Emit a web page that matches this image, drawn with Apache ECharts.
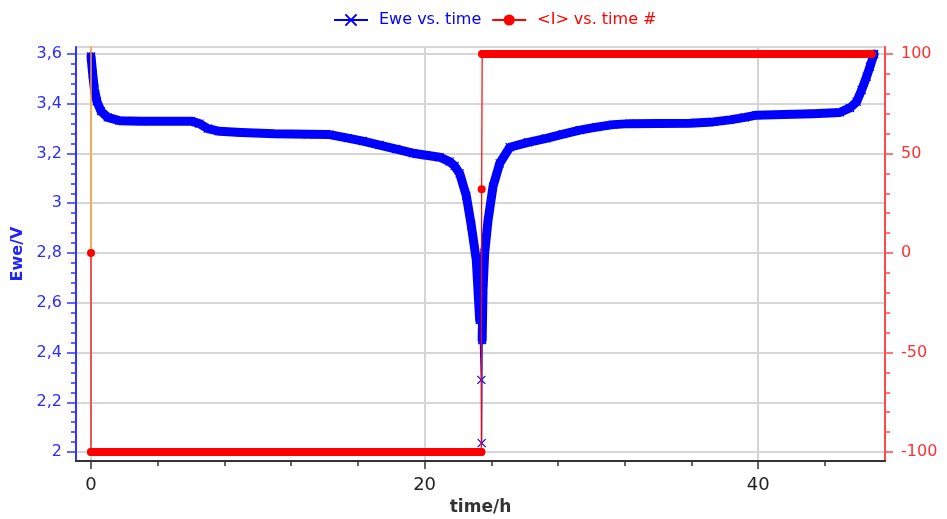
<!DOCTYPE html>
<html>
<head>
<meta charset="utf-8">
<script src="https://cdn.jsdelivr.net/npm/echarts@6/dist/echarts.min.js"></script>
<style>
html,body{margin:0;padding:0;background:#fff;}
#chart{width:947px;height:519px;}
</style>
</head>
<body>
<div id="chart"></div>
<script>
// ---- data ----
const timeEwe = [0, 0.1, 0.2, 0.35, 0.6, 1.0, 1.7, 3, 4.5, 6, 6.5, 7, 7.7, 9, 11, 13, 14.3, 15.4, 16.3, 17.3, 18.3, 19.3, 20.1, 20.9, 21.5, 21.8, 22.1, 22.5, 22.8, 23.1, 23.3, 23.4, 23.42, 23.45, 23.5, 23.6, 23.8, 24.1, 24.5, 25.1, 26.2, 27.3, 28.3, 29.3, 30.3, 31.3, 32.3, 34, 35.9, 37.3, 38.3, 39.2, 39.9, 41.5, 43.3, 44.9, 45.5, 45.9, 46.2, 46.5, 46.7, 46.95];
const ewe = [3.59, 3.52, 3.46, 3.41, 3.37, 3.345, 3.332, 3.33, 3.33, 3.33, 3.32, 3.30, 3.289, 3.284, 3.279, 3.277, 3.276, 3.262, 3.25, 3.234, 3.218, 3.201, 3.193, 3.185, 3.167, 3.15, 3.12, 3.03, 2.91, 2.77, 2.53, 2.29, 2.036, 2.45, 2.65, 2.80, 2.93, 3.067, 3.16, 3.225, 3.245, 3.261, 3.278, 3.294, 3.306, 3.316, 3.32, 3.321, 3.322, 3.327, 3.335, 3.345, 3.354, 3.357, 3.36, 3.365, 3.383, 3.408, 3.455, 3.509, 3.549, 3.60];
const timeI = [0, 0, 23.4, 23.42, 23.45, 46.8];
const current = [0, -100, -100, 32, 100, 100];
const cursorTime = [0, 0];
const cursorI = [110, 0];

const xTickLabels = [0, 20, 40];
const xMinorTicks = [4, 8, 12, 16, 24, 28, 32, 36, 44];
const eweTickLabels = [2, 2.2, 2.4, 2.6, 2.8, 3, 3.2, 3.4, 3.6];
const iTickLabels = [-100, -50, 0, 50, 100];

const legendNames = ['Ewe vs. time', '<I> vs. time #'];

// ---- derived ----
const eweMinor = [];
for (let k = 0; k <= 40; k++) { if (k % 5) eweMinor.push(Math.round((2 + k * 0.04) * 1000) / 1000); }
const iMinor = [];
for (let v = -100; v <= 100; v += 10) { if (v % 50) iMinor.push(v); }

const eweData = timeEwe.map((t, i) => [t, ewe[i]]);
const bandFloor = 2.4;
const eweBand = timeEwe.map((t, i) => [t, ewe[i] >= bandFloor ? ewe[i] : null]);
const iData = timeI.map((t, i) => [t, current[i]]);
const iBar = timeI.map((t, i) => [t, Math.abs(current[i]) === 100 ? current[i] : null]);
const cursorData = cursorTime.map((t, i) => [t, cursorI[i]]);

const BLUE = '#0000ff', RED = '#ff0000';
const FONT = 'DejaVu Sans';
const X_MIN = -0.9, X_MAX = 47.6, V_MIN = 1.964, V_MAX = 3.628, I_MIN = -104.5, I_MAX = 103.5;
const gridLine = { show: true, lineStyle: { color: '#d6d6d6', width: 2 } };

const chart = echarts.init(document.getElementById('chart'), null, { renderer: 'canvas' });
chart.setOption({
  animation: false,
  backgroundColor: '#fff',
  grid: { left: 76, right: 62, top: 47, bottom: 58, show: true, borderColor: '#d6d6d6', borderWidth: 2,
          containLabel: false, outerBoundsMode: 'none' },
  legend: {
    left: 328, top: 7, itemWidth: 34, itemHeight: 14, itemGap: 10,
    data: [
      { name: legendNames[0], textStyle: { color: BLUE } },
      { name: legendNames[1], textStyle: { color: RED } }
    ],
    textStyle: { fontFamily: FONT, fontSize: 16, padding: [0, 0, 0, 6] }
  },
  xAxis: [
    {
      type: 'value', min: X_MIN, max: X_MAX, position: 'bottom',
      name: 'time/h', nameLocation: 'middle', nameGap: 37,
      nameTextStyle: { fontFamily: FONT, fontWeight: 'bold', fontSize: 17, color: '#333' },
      axisLine: { show: true, onZero: false, lineStyle: { color: '#333', width: 2 } },
      axisTick: { show: true, customValues: xTickLabels, length: 8, lineStyle: { color: '#333', width: 1.5 } },
      axisLabel: { customValues: xTickLabels, margin: 15, color: '#222', fontFamily: FONT, fontSize: 18 },
      splitLine: gridLine
    },
    {
      type: 'value', min: X_MIN, max: X_MAX, position: 'bottom',
      axisLine: { show: false, onZero: false },
      axisTick: { show: true, customValues: xMinorTicks, length: 5, lineStyle: { color: '#333', width: 1.5 } },
      axisLabel: { show: false }, splitLine: { show: false }
    }
  ],
  yAxis: [
    {
      type: 'value', min: V_MIN, max: V_MAX, position: 'left',
      name: 'Ewe/V', nameLocation: 'middle', nameGap: 50,
      nameTextStyle: { fontFamily: FONT, fontWeight: 'bold', fontSize: 16, color: '#2222ff' },
      axisLine: { show: true, onZero: false, lineStyle: { color: '#3333ff', width: 2 } },
      axisTick: { show: true, customValues: eweTickLabels, length: 9, lineStyle: { color: '#3333ff', width: 1.5 } },
      axisLabel: {
        customValues: eweTickLabels, margin: 14, color: '#2b2bff', fontFamily: FONT, fontSize: 16,
        formatter: v => String(Math.round(v * 10) / 10).replace('.', ',')
      },
      splitLine: gridLine
    },
    {
      type: 'value', min: I_MIN, max: I_MAX, position: 'right',
      name: '<I>/mA', nameLocation: 'middle', nameGap: 46, nameRotate: -90,
      nameTextStyle: { fontFamily: FONT, fontWeight: 'bold', fontSize: 16, color: '#ff2222' },
      axisLine: { show: true, onZero: false, lineStyle: { color: '#ff4a4a', width: 2 } },
      axisTick: { show: true, customValues: iTickLabels, length: 8, lineStyle: { color: '#ff4a4a', width: 1.5 } },
      axisLabel: { customValues: iTickLabels, margin: 16, color: '#ff3030', fontFamily: FONT, fontSize: 16 },
      splitLine: { show: false }
    },
    {
      type: 'value', min: V_MIN, max: V_MAX, position: 'left',
      axisLine: { show: false, onZero: false },
      axisTick: { show: true, customValues: eweMinor, length: 5, lineStyle: { color: '#3333ff', width: 1.5 } },
      axisLabel: { show: false }, splitLine: { show: false }
    },
    {
      type: 'value', min: I_MIN, max: I_MAX, position: 'right',
      axisLine: { show: false, onZero: false },
      axisTick: { show: true, customValues: iMinor, length: 5, lineStyle: { color: '#ff4a4a', width: 1.5 } },
      axisLabel: { show: false }, splitLine: { show: false }
    }
  ],
  series: [
    {
      name: 'eweBand', type: 'line', xAxisIndex: 0, yAxisIndex: 0, data: eweBand,
      showSymbol: false, connectNulls: false, silent: true, z: 2,
      lineStyle: { color: BLUE, width: 9, cap: 'round', join: 'round' }
    },
    {
      name: legendNames[0], type: 'line', xAxisIndex: 0, yAxisIndex: 0, data: eweData,
      symbol: 'path://M0,0L10,10M10,0L0,10', symbolSize: 8, showAllSymbol: true, silent: true, z: 3,
      itemStyle: { color: BLUE, borderColor: BLUE, borderWidth: 1.2 },
      lineStyle: { color: BLUE, width: 1.2 }
    },
    {
      name: 'cursor', type: 'line', xAxisIndex: 0, yAxisIndex: 1, data: cursorData,
      showSymbol: false, silent: true, z: 4,
      lineStyle: { color: '#ffa030', width: 1.5 }
    },
    {
      name: 'iBar', type: 'line', xAxisIndex: 0, yAxisIndex: 1, data: iBar,
      showSymbol: false, connectNulls: false, silent: true, z: 5,
      lineStyle: { color: RED, width: 8, cap: 'round' }
    },
    {
      name: legendNames[1], type: 'line', xAxisIndex: 0, yAxisIndex: 1, data: iData,
      symbol: 'circle', symbolSize: 8, showAllSymbol: true, silent: true, z: 6,
      itemStyle: { color: RED },
      lineStyle: { color: RED, width: 1.2 }
    }
  ]
});
</script>
</body>
</html>
